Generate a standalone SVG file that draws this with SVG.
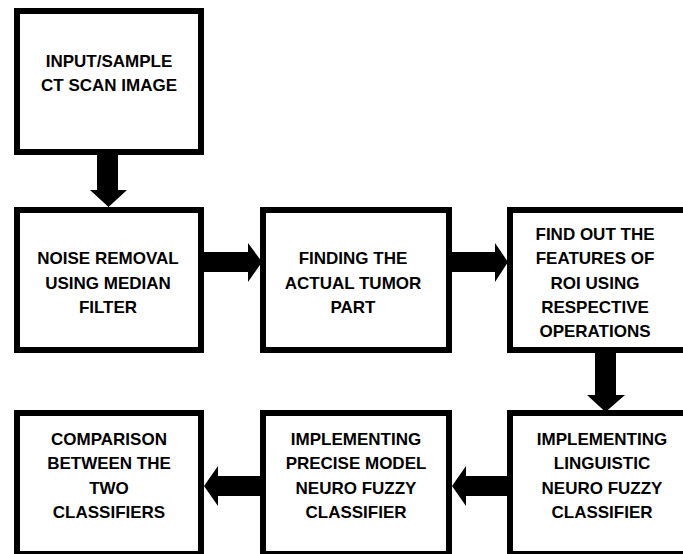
<svg xmlns="http://www.w3.org/2000/svg" width="683" height="554" viewBox="0 0 683 554">
<style>
.box{fill:#fff;stroke:#000;stroke-width:6}
.t{font-family:"Liberation Sans",Arial,sans-serif;font-weight:bold;font-size:17px;text-anchor:middle;fill:#000}
.arr{fill:#000}
</style>
<rect x="0" y="0" width="683" height="554" fill="#fff"/>
<g id="n1"><rect class="box" x="17" y="11" width="184" height="141"/>
<text class="t" x="109" y="67">INPUT/SAMPLE</text>
<text class="t" x="109" y="91">CT SCAN IMAGE</text></g>
<g id="n2"><rect class="box" x="17" y="210" width="184" height="140"/>
<text class="t" x="108" y="264">NOISE REMOVAL</text>
<text class="t" x="108" y="289">USING MEDIAN</text>
<text class="t" x="108" y="313">FILTER</text></g>
<g id="n3"><rect class="box" x="263" y="210" width="186" height="140"/>
<text class="t" x="353" y="264">FINDING THE</text>
<text class="t" x="353" y="289">ACTUAL TUMOR</text>
<text class="t" x="353" y="313">PART</text></g>
<g id="n4"><rect class="box" x="510" y="210" width="200" height="140"/>
<text class="t" x="595" y="240">FIND OUT THE</text>
<text class="t" x="595" y="264">FEATURES OF</text>
<text class="t" x="595" y="289">ROI USING</text>
<text class="t" x="595" y="313">RESPECTIVE</text>
<text class="t" x="595" y="337">OPERATIONS</text></g>
<g id="n5"><rect class="box" x="17" y="413" width="184" height="141"/>
<text class="t" x="109" y="445">COMPARISON</text>
<text class="t" x="109" y="469">BETWEEN THE</text>
<text class="t" x="109" y="494">TWO</text>
<text class="t" x="109" y="518">CLASSIFIERS</text></g>
<g id="n6"><rect class="box" x="263" y="413" width="186" height="141"/>
<text class="t" x="356" y="445">IMPLEMENTING</text>
<text class="t" x="356" y="469">PRECISE MODEL</text>
<text class="t" x="356" y="494">NEURO FUZZY</text>
<text class="t" x="356" y="518">CLASSIFIER</text></g>
<g id="n7"><rect class="box" x="510" y="413" width="200" height="141"/>
<text class="t" x="602" y="445">IMPLEMENTING</text>
<text class="t" x="602" y="469">LINGUISTIC</text>
<text class="t" x="602" y="494">NEURO FUZZY</text>
<text class="t" x="602" y="518">CLASSIFIER</text></g>
<g id="connectors">
<polygon class="arr" points="97,155 118,155 118,190 127,190 108.5,207 90,190 97,190"/>
<polygon class="arr" points="204,252 248,252 248,243 262,262 248,282 248,272 204,272"/>
<polygon class="arr" points="452,252 495,252 495,243 508,262 495,282 495,272 452,272"/>
<polygon class="arr" points="595,353 616,353 616,395 625,395 605.5,412 587,395 595,395"/>
<polygon class="arr" points="507,476 466,476 466,466 452,486 466,506 466,496 507,496"/>
<polygon class="arr" points="260,476 218,476 218,466 204,486 218,506 218,496 260,496"/>
</g>
</svg>
